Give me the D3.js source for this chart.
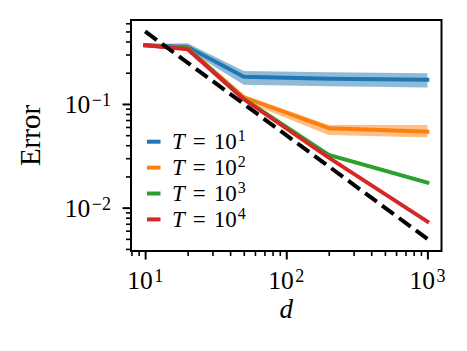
<!DOCTYPE html>
<html>
<head>
<meta charset="utf-8">
<script src="https://cdn.jsdelivr.net/npm/d3@7"></script>
<style>
  body { margin: 0; background: #fff; }
</style>
</head>
<body>
<div id="chart"></div>
<script>
// d values on the x axis
const dims = [10, 20, 50, 200, 1000];

// error per T (mean, band low, band high)
const err1 = [0.368, 0.355, 0.183, 0.175, 0.171];
const err1Lo = [0.36, 0.332, 0.153, 0.148, 0.144];
const err1Hi = [0.378, 0.385, 0.208, 0.202, 0.198];

const err2 = [0.368, 0.345, 0.116, 0.0584, 0.054];
const err2Lo = [0.362, 0.335, 0.107, 0.0502, 0.0475];
const err2Hi = [0.374, 0.355, 0.122, 0.0627, 0.0627];

const err3 = [0.368, 0.343, 0.112, 0.0322, 0.0174];
const err3Lo = [0.363, 0.335, 0.108, 0.031, 0.0167];
const err3Hi = [0.373, 0.351, 0.116, 0.0334, 0.0181];

const err4 = [0.368, 0.337, 0.111, 0.0303, 0.00733];
const err4Lo = [0.365, 0.333, 0.109, 0.0297, 0.00718];
const err4Hi = [0.371, 0.341, 0.113, 0.0309, 0.00748];

// reference slope line  5/d
const refD = [10, 1000];
const refErr = [0.5, 0.005];

const legendExp = ["1", "2", "3", "4"];
const colors = ["#1f77b4", "#ff7f0e", "#2ca02c", "#d62728"];

const xMajor = [10, 100, 1000];
const xMajorExp = ["1", "2", "3"];
const xMinor = [8, 9, 20, 30, 40, 50, 60, 70, 80, 90, 200, 300, 400, 500, 600, 700, 800, 900];
const yMajor = [0.01, 0.1];
const yMajorExp = ["\u22122", "\u22121"];
const yMinor = [0.004, 0.005, 0.006, 0.007, 0.008, 0.009,
  0.02, 0.03, 0.04, 0.05, 0.06, 0.07, 0.08, 0.09,
  0.2, 0.3, 0.4, 0.5, 0.6];

const series = [
  { mean: err1, lo: err1Lo, hi: err1Hi },
  { mean: err2, lo: err2Lo, hi: err2Hi },
  { mean: err3, lo: err3Lo, hi: err3Hi },
  { mean: err4, lo: err4Lo, hi: err4Hi },
];

const W = 467, H = 351;
const plotL = 131, plotR = 441.5, plotT = 20, plotB = 251;
const FONT = "Liberation Serif, DejaVu Serif, serif";

const svg = d3.select("#chart").append("svg")
  .attr("width", W)
  .attr("height", H)
  .attr("font-family", FONT);

const xScale = d3.scaleLog().domain([7.94, 1259]).range([plotL, plotR]);
const yScale = d3.scaleLog().domain([0.00382, 0.645]).range([plotB, plotT]);

// bands + lines
const area = d3.area()
  .x((d, i) => xScale(dims[i]))
  .y0(d => yScale(d[0]))
  .y1(d => yScale(d[1]));
const line = d3.line()
  .x((d, i) => xScale(dims[i]))
  .y(d => yScale(d));

series.forEach((s, k) => {
  svg.append("path")
    .datum(s.lo.map((v, i) => [v, s.hi[i]]))
    .attr("fill", colors[k])
    .attr("fill-opacity", 0.5)
    .attr("d", area);
  svg.append("path")
    .datum(s.mean)
    .attr("fill", "none")
    .attr("stroke", colors[k])
    .attr("stroke-width", 3.9)
    .attr("stroke-linecap", "square")
    .attr("stroke-linejoin", "round")
    .attr("d", line);
});

// dashed reference
svg.append("path")
  .datum(refErr)
  .attr("fill", "none")
  .attr("stroke", "black")
  .attr("stroke-width", 4)
  .attr("stroke-dasharray", "14.5,6.5")
  .attr("d", d3.line().x((d, i) => xScale(refD[i])).y(d => yScale(d)));

// axes (ticks only)
const gx = svg.append("g").attr("transform", `translate(0,${plotB})`);
gx.append("g").call(d3.axisBottom(xScale).tickValues(xMinor).tickSize(5).tickSizeOuter(0).tickFormat(""))
  .call(g => g.selectAll("line").attr("stroke-width", 1.6));
gx.append("g").call(d3.axisBottom(xScale).tickValues(xMajor).tickSize(8.5).tickSizeOuter(0).tickFormat(""))
  .call(g => g.selectAll("line").attr("stroke-width", 2));
gx.selectAll(".domain").remove();

const gy = svg.append("g").attr("transform", `translate(${plotL},0)`);
gy.append("g").call(d3.axisLeft(yScale).tickValues(yMinor).tickSize(5).tickSizeOuter(0).tickFormat(""))
  .call(g => g.selectAll("line").attr("stroke-width", 1.6));
gy.append("g").call(d3.axisLeft(yScale).tickValues(yMajor).tickSize(8.5).tickSizeOuter(0).tickFormat(""))
  .call(g => g.selectAll("line").attr("stroke-width", 2));
gy.selectAll(".domain").remove();

// tick labels
xMajor.forEach((v, i) => {
  const t = svg.append("text")
    .attr("x", xScale(v))
    .attr("y", 289)
    .attr("text-anchor", "middle")
    .attr("font-family", FONT)
    .attr("font-size", 25.5);
  t.append("tspan").text("10");
  t.append("tspan").attr("dx", 1.5).attr("dy", -7).attr("font-size", 18).text(xMajorExp[i]);
});
yMajor.forEach((v, i) => {
  const t = svg.append("text")
    .attr("x", 111)
    .attr("y", yScale(v) + 9)
    .attr("text-anchor", "end")
    .attr("font-family", FONT)
    .attr("font-size", 25.5);
  t.append("tspan").text("10");
  t.append("tspan").attr("dx", 1.5).attr("dy", -7).attr("font-size", 18).text(yMajorExp[i]);
});

// frame
svg.append("rect")
  .attr("x", plotL).attr("y", plotT)
  .attr("width", plotR - plotL).attr("height", plotB - plotT)
  .attr("fill", "none").attr("stroke", "black").attr("stroke-width", 2);

// axis labels
svg.append("text")
  .attr("x", (plotL + plotR) / 2)
  .attr("y", 318)
  .attr("text-anchor", "middle")
  .attr("font-size", 27)
  .attr("font-style", "italic")
  .text("d");
svg.append("text")
  .attr("transform", `translate(40,${(plotT + plotB) / 2}) rotate(-90)`)
  .attr("text-anchor", "middle")
  .attr("font-size", 29)
  .text("Error");

// legend
const legend = svg.append("g");
legendExp.forEach((e, i) => {
  const cy = 141.7 + i * 25.9;
  legend.append("line")
    .attr("x1", 147).attr("x2", 160.5)
    .attr("y1", cy).attr("y2", cy)
    .attr("stroke", colors[i]).attr("stroke-width", 4);
  const t = legend.append("text")
    .attr("x", 172).attr("y", cy + 7.5)
    .attr("font-family", FONT)
    .attr("font-size", 23);
  t.append("tspan").attr("font-style", "italic").text("T");
  t.append("tspan").attr("dx", 8).text("=");
  t.append("tspan").attr("dx", 8).text("10");
  t.append("tspan").attr("dx", 1).attr("dy", -8).attr("font-size", 16).text(e);
});
</script>
</body>
</html>
